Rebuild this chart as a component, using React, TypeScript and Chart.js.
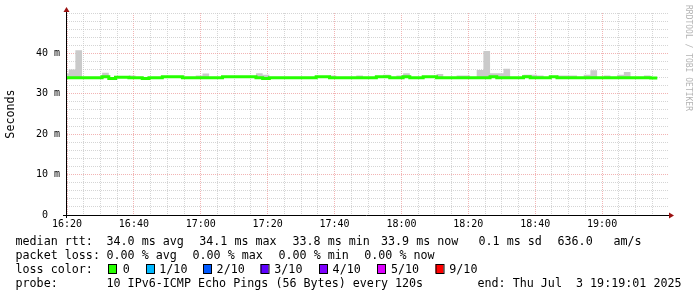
import React, { useEffect, useRef } from 'react';
import { Chart, registerables } from 'chart.js';

Chart.register(...registerables);

// ---------------- data ----------------
// minutes after 16:20 at which the first 120 s step starts
const firstStepStart = -1.5;
const stepMinutes = 2;
const startClock = 16 * 60 + 20;
const axisMinutes = 180;

// median RTT per 120 s step (ms)
const medianRtt = [
  34.0, 34.0, 34.0, 34.0, 34.0, 34.0, 34.2, 33.8, 34.1, 34.1,
  34.0, 34.0, 33.8, 34.0, 34.0, 34.2, 34.2, 34.2, 34.0, 34.0,
  34.0, 34.0, 34.0, 34.0, 34.2, 34.2, 34.2, 34.2, 34.2, 34.0,
  33.8, 34.0, 34.0, 34.0, 34.0, 34.0, 34.0, 34.0, 34.2, 34.2,
  34.0, 34.0, 34.0, 34.0, 34.0, 34.0, 34.0, 34.2, 34.2, 34.0,
  34.0, 34.2, 34.0, 34.0, 34.2, 34.2, 34.0, 34.0, 34.0, 34.0,
  34.0, 34.0, 34.0, 34.0, 34.2, 34.0, 34.0, 34.0, 34.0, 34.2,
  34.0, 34.0, 34.0, 34.2, 34.0, 34.0, 34.0, 34.0, 34.0, 34.0,
  34.0, 34.0, 34.0, 34.0, 34.0, 34.0, 34.0, 34.0, 33.9,
];

// highest ping per step (ms) - top of the smoke
const smokeHigh = [
  35.0, 36.0, 40.8, 34.0, 34.0, 34.0, 35.2, 33.8, 34.1, 34.1,
  34.5, 34.0, 33.8, 34.0, 34.0, 34.2, 34.2, 34.2, 34.0, 34.0,
  34.5, 35.0, 34.0, 34.0, 34.2, 34.2, 34.2, 34.2, 34.2, 35.1,
  34.7, 34.0, 34.0, 34.0, 34.0, 34.0, 34.0, 34.0, 34.2, 34.2,
  34.5, 34.0, 34.0, 34.0, 34.5, 34.0, 34.0, 34.2, 34.7, 34.0,
  34.5, 35.1, 34.0, 34.0, 34.2, 34.2, 34.9, 34.0, 34.0, 34.5,
  34.5, 34.0, 35.9, 40.6, 35.1, 35.1, 36.2, 34.0, 34.0, 34.7,
  34.7, 34.5, 34.0, 34.2, 34.5, 34.5, 34.5, 34.0, 34.7, 35.8,
  34.0, 34.5, 34.0, 34.7, 35.4, 34.0, 34.0, 34.5, 33.9,
];

const rttStats = ['34.0 ms avg', '34.1 ms max', '33.8 ms min', '33.9 ms now', '0.1 ms sd', '636.0', 'am/s'];
const lossStats = ['0.00 % avg', '0.00 % max', '0.00 % min', '0.00 % now'];
const lossLabels = ['0', '1/10', '2/10', '3/10', '4/10', '5/10', '9/10'];
const lossColors = ['#26ff00', '#00b8ff', '#0059ff', '#5e00ff', '#7e00ff', '#dd00ff', '#ff0000'];
const probeText = '10 IPv6-ICMP Echo Pings (56 Bytes) every 120s';
const endText = 'end: Thu Jul  3 19:19:01 2025';
const watermark = 'RRDTOOL / TOBI OETIKER';

// ---------------- layout ----------------
const MONO = "'DejaVu Sans Mono', monospace";
const legendFont = `11.7px ${MONO}`;
const rttX = [106.5, 199.2, 292.5, 381, 478.5, 557.5, 613.5];
const lossX = [106.5, 192.5, 278.5, 364.2];
const boxX = [108, 146, 203, 260.5, 319, 377, 435.5];
const boxLabelX = [122.7, 159.3, 216.6, 274.3, 332.6, 391, 449.3];
const lineY = [244.7, 258.7, 272.7, 286.7];
const MINOR = 'rgba(195,195,195,0.7)';
const MAJOR = 'rgba(235,140,140,0.65)';

function stepPoints(values: number[]) {
  const pts = values.map((v, k) => ({ x: firstStepStart + k * stepMinutes, y: v }));
  pts.push({ x: firstStepStart + values.length * stepMinutes, y: values[values.length - 1] });
  return pts;
}

function clock(v: number) {
  const t = startClock + v;
  const h = Math.floor(t / 60);
  const m = t % 60;
  return `${h}:${m < 10 ? '0' : ''}${m}`;
}

const decorPlugin = {
  id: 'decor',
  afterDraw(chart: any) {
    const { ctx, chartArea: a } = chart;
    ctx.save();
    // axes
    ctx.strokeStyle = '#000';
    ctx.lineWidth = 1;
    ctx.beginPath();
    ctx.moveTo(a.left - 4, a.bottom + 0.5);
    ctx.lineTo(a.right + 1, a.bottom + 0.5);
    ctx.moveTo(a.left - 0.5, a.bottom + 3);
    ctx.lineTo(a.left - 0.5, a.top - 3);
    ctx.stroke();
    ctx.fillStyle = '#9a1010';
    ctx.beginPath();
    ctx.moveTo(a.right + 5, a.bottom + 0.5);
    ctx.lineTo(a.right, a.bottom - 2.5);
    ctx.lineTo(a.right, a.bottom + 3.5);
    ctx.closePath();
    ctx.fill();
    ctx.beginPath();
    ctx.moveTo(a.left - 0.5, a.top - 6);
    ctx.lineTo(a.left - 3.5, a.top - 1);
    ctx.lineTo(a.left + 2.5, a.top - 1);
    ctx.closePath();
    ctx.fill();

    // legend
    ctx.font = legendFont;
    ctx.fillStyle = '#000';
    ctx.textAlign = 'left';
    ctx.textBaseline = 'alphabetic';
    ctx.fillText('median rtt:', 15.5, lineY[0]);
    rttStats.forEach((s, i) => ctx.fillText(s, rttX[i], lineY[0]));
    ctx.fillText('packet loss:', 15.5, lineY[1]);
    lossStats.forEach((s, i) => ctx.fillText(s, lossX[i], lineY[1]));
    ctx.fillText('loss color:', 15.5, lineY[2]);
    lossLabels.forEach((s, i) => {
      ctx.fillStyle = lossColors[i];
      ctx.fillRect(boxX[i], 264, 8, 9);
      ctx.strokeStyle = '#000';
      ctx.strokeRect(boxX[i] + 0.5, 264.5, 8, 9);
      ctx.fillStyle = '#000';
      ctx.fillText(s, boxLabelX[i], lineY[2]);
    });
    ctx.fillText('probe:', 15.5, lineY[3]);
    ctx.fillText(probeText, 106.5, lineY[3]);
    ctx.fillText(endText, 477.5, lineY[3]);

    // watermark
    ctx.translate(688.5, 5);
    ctx.rotate(Math.PI / 2);
    ctx.font = `8px ${MONO}`;
    ctx.fillStyle = '#b4b4b4';
    ctx.textBaseline = 'middle';
    ctx.fillText(watermark, 0, 0);
    ctx.restore();
  },
};

export default function App() {
  const ref = useRef<HTMLCanvasElement>(null);
  useEffect(() => {
    document.body.style.margin = '0';
    const canvas = ref.current!;
    const chart = new Chart(canvas, {
      type: 'line',
      data: {
        datasets: [
          {
            label: 'smoke',
            data: stepPoints(smokeHigh),
            stepped: 'before',
            borderWidth: 0,
            borderColor: 'rgba(0,0,0,0)',
            backgroundColor: '#cacaca',
            fill: '+1',
            pointRadius: 0,
            clip: 0,
            order: 2,
          },
          {
            label: 'median',
            data: stepPoints(medianRtt),
            stepped: 'before',
            borderWidth: 3,
            borderColor: '#26ff00',
            backgroundColor: '#26ff00',
            fill: false,
            pointRadius: 0,
            clip: 0,
            order: 1,
          },
        ],
      },
      options: {
        animation: false,
        responsive: false,
        maintainAspectRatio: false,
        devicePixelRatio: 1,
        layout: { padding: { left: 0, top: 13, right: 28, bottom: 62 } },
        plugins: { legend: { display: false }, tooltip: { enabled: false } },
        scales: {
          x: {
            type: 'linear',
            min: 0,
            max: axisMinutes,
            afterFit: (s: any) => { s.height = 20; },
            grid: {
              drawTicks: false,
              lineWidth: 1,
              color: (c: any) => {
                const v = c.tick?.value;
                if (v === undefined || v >= axisMinutes) return 'rgba(0,0,0,0)';
                return v % 20 === 0 ? MAJOR : MINOR;
              },
            },
            border: { display: false, dash: [1, 1] },
            ticks: {
              stepSize: 5,
              autoSkip: false,
              maxRotation: 0,
              minRotation: 0,
              padding: 3,
              color: '#000',
              font: { family: MONO, size: 10 },
              callback: (v: any) => (v % 20 === 0 && v < axisMinutes ? clock(v) : ''),
            },
          },
          y: {
            min: 0,
            max: 50,
            afterFit: (s: any) => { s.width = 67; },
            grid: {
              drawTicks: false,
              lineWidth: 1,
              color: (c: any) => {
                const v = c.tick?.value;
                if (v === undefined) return 'rgba(0,0,0,0)';
                return v % 10 === 0 && v < 50 ? MAJOR : MINOR;
              },
            },
            border: { display: false, dash: [1, 1] },
            title: {
              display: true,
              text: 'Seconds',
              color: '#000',
              font: { family: MONO, size: 11.7 },
              padding: { top: 4, bottom: 0 },
            },
            ticks: {
              stepSize: 2,
              autoSkip: false,
              padding: 7,
              color: '#000',
              font: { family: MONO, size: 10 },
              callback: (v: any) => (v % 10 === 0 && v < 50 ? (v === 0 ? '0  ' : `${v} m`) : ''),
            },
          },
        },
      },
      plugins: [decorPlugin],
    });
    return () => chart.destroy();
  }, []);
  return (
    <div style={{ position: 'fixed', left: 0, top: 0, width: 697, height: 297, background: '#fff' }}>
      <canvas ref={ref} width={697} height={297} style={{ width: 697, height: 297, display: 'block' }} />
    </div>
  );
}
